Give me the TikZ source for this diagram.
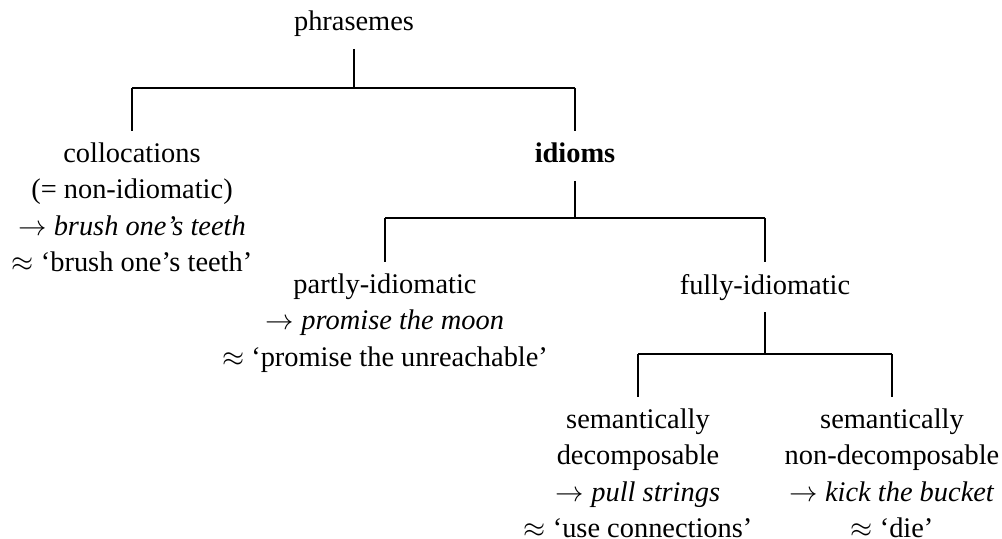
\documentclass[tikz,border=0pt]{standalone}
\usepackage{fontspec}
\setmainfont{Liberation Serif}
\begin{document}
\begin{tikzpicture}[x=0.352pt, y=-0.352pt,
  lbl/.style={inner sep=0pt, align=center, anchor=north,
    font=\fontsize{10pt}{12.7pt}\selectfont},
  branch/.style={draw=black, line width=0.4pt},
  stem/.style={branch, shorten <=6.3pt},
  drop/.style={branch, shorten >=4.1pt}]
\useasboundingbox (0,0) rectangle (1002,539);

% labels of the tree
\node[lbl] (phr) at (354,10.6) {phrasemes};
\node[lbl] (coll) at (132,142.6) {collocations\\(= non-idiomatic)\\$\rightarrow$ \textit{brush one's teeth}\\$\approx$ `brush one's teeth'};
\node[lbl] (idi) at (575,142.6) {\textbf{idioms}};
\node[lbl] (part) at (385,273.6) {partly-idiomatic\\$\rightarrow$ \textit{promise the moon}\\$\approx$ `promise the unreachable'};
\node[lbl] (full) at (765,273.6) {fully-idiomatic};
\node[lbl] (semd) at (638,408.6) {semantically\\decomposable\\$\rightarrow$ \textit{pull strings}\\$\approx$ `use connections'};
\node[lbl] (semn) at (892,408.6) {semantically\\non-decomposable\\$\rightarrow$ \textit{kick the bucket}\\$\approx$ `die'};

% junction points of the branches
\coordinate (j1) at (354,88);
\coordinate (j2) at (575,218);
\coordinate (j3) at (765,354);

% phrasemes -> collocations / idioms
\draw[stem] (phr.base) -- (j1);
\draw[drop] (coll |- j1) -- (coll.north);
\draw[branch] (coll |- j1) -- (idi |- j1);
\draw[drop] (idi |- j1) -- (idi.north);

% idioms -> partly / fully idiomatic
\draw[stem] (idi.base) -- (j2);
\draw[drop] (part |- j2) -- (part.north);
\draw[branch] (part |- j2) -- (full |- j2);
\draw[drop] (full |- j2) -- (full.north);

% fully idiomatic -> decomposable / non-decomposable
\draw[stem] (full.base) -- (j3);
\draw[drop] (semd |- j3) -- (semd.north);
\draw[branch] (semd |- j3) -- (semn |- j3);
\draw[drop] (semn |- j3) -- (semn.north);
\end{tikzpicture}
\end{document}
